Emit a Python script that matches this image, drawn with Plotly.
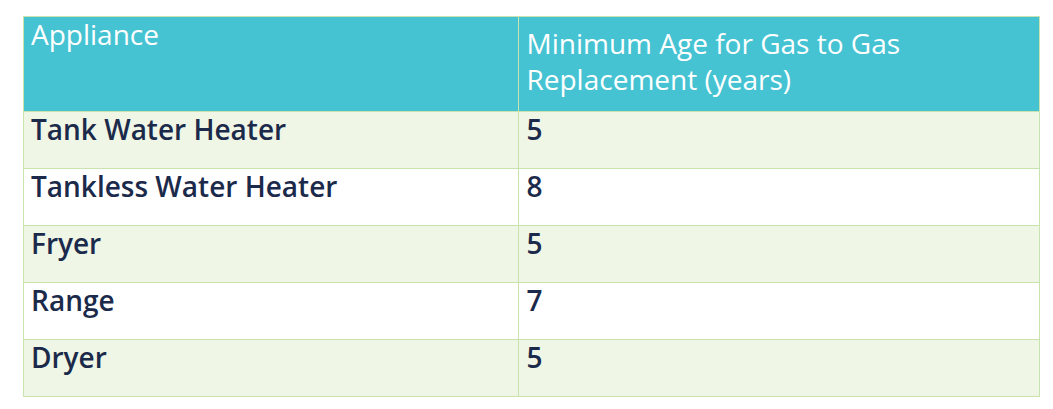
import plotly.graph_objects as go

appliances = ["Tank Water Heater", "Tankless Water Heater", "Fryer", "Range", "Dryer"]
min_age = [5, 8, 5, 7, 5]
headers = ["Appliance", "Minimum Age for Gas to Gas<br>Replacement (years)"]

row_colors = ["#EFF6E6" if i % 2 == 0 else "#FFFFFF" for i in range(len(appliances))]
border = "#C9E3AE"

fig = go.Figure(go.Table(
    columnwidth=[495, 520],
    header=dict(
        values=headers,
        fill_color="#45C3D3",
        line_color=border,
        align="left",
        height=95,
        font=dict(family="Open Sans", size=28, color="white", weight=500),
    ),
    cells=dict(
        values=[appliances, min_age],
        fill_color=[row_colors, row_colors],
        line_color=border,
        align="left",
        height=57,
        font=dict(family="Open Sans", size=28, color="#1B2A4A", weight=600),
    ),
))
fig.update_layout(
    width=1053, height=409,
    margin=dict(l=15, r=22, t=8, b=0),
    paper_bgcolor="white",
)
fig.write_html("out.html")
